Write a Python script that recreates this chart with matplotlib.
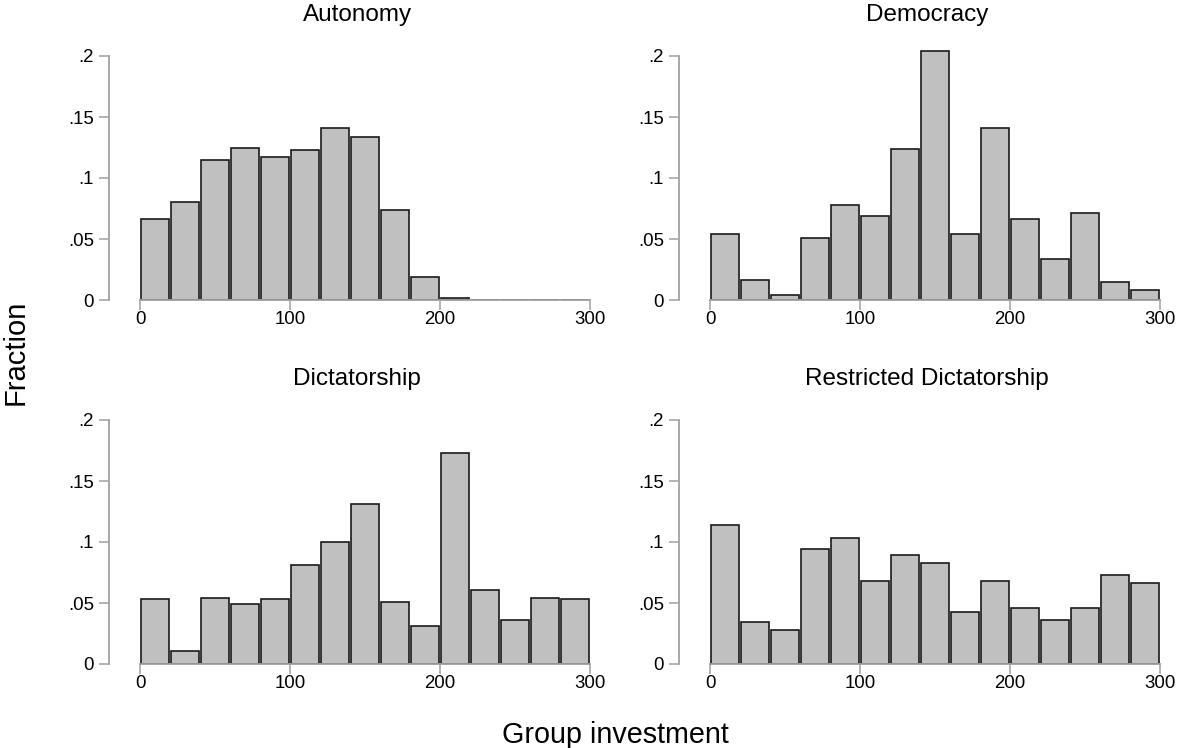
import matplotlib.pyplot as plt
import numpy as np

plt.rcParams["font.family"] = ["Liberation Sans", "DejaVu Sans"]

# bins of width 20 from 0 to 300
bin_edges = np.arange(0, 301, 20)
panel_titles = ["Autonomy", "Democracy", "Dictatorship", "Restricted Dictatorship"]

autonomy = [0.066, 0.080, 0.115, 0.125, 0.117, 0.123, 0.141, 0.134, 0.074, 0.019,
            0.0013, 0, 0, 0, 0]
democracy = [0.054, 0.016, 0.0045, 0.051, 0.078, 0.069, 0.124, 0.204, 0.054, 0.141,
             0.066, 0.034, 0.071, 0.0145, 0.0078]
dictatorship = [0.053, 0.011, 0.054, 0.0495, 0.053, 0.081, 0.100, 0.131, 0.051, 0.031,
                0.173, 0.061, 0.036, 0.054, 0.053]
restricted = [0.114, 0.0345, 0.028, 0.0945, 0.103, 0.068, 0.0895, 0.083, 0.043, 0.068,
              0.046, 0.036, 0.046, 0.073, 0.066]

panel_values = [autonomy, democracy, dictatorship, restricted]

fig = plt.figure(figsize=(11.78, 7.48), dpi=100)

W, H = 1178, 748
# (x of 0, y of zero line) in pixels
origins = [(140, 300), (710, 300), (140, 664), (710, 664)]
px_per_unit = 1220
ytop = 0.21

centers = (bin_edges[:-1] + bin_edges[1:]) / 2
for (x0, y0), title, vals in zip(origins, panel_titles, panel_values):
    h = ytop * px_per_unit
    ax = fig.add_axes([x0 / W, (H - y0) / H, 450 / W, h / H])
    ax.bar(centers, vals, width=19.3, color="#c0c0c0", edgecolor="#1a1a1a",
           linewidth=1.2)
    ax.set_xlim(0, 300)
    ax.set_ylim(0, ytop)
    ax.set_xticks([0, 100, 200, 300])
    ax.set_yticks([0, 0.05, 0.1, 0.15, 0.2])
    ax.set_yticklabels(["0", ".05", ".1", ".15", ".2"])
    for s in ["top", "right"]:
        ax.spines[s].set_visible(False)
    ax.spines["left"].set_position(("outward", 22.3))
    ax.spines["left"].set_bounds(0, 0.2)
    ax.spines["bottom"].set_bounds(0, 300)
    for s in ["left", "bottom"]:
        ax.spines[s].set_color("#a0a0a0")
        ax.spines[s].set_linewidth(1.3)
    ax.tick_params(axis="both", colors="#a0a0a0", labelcolor="black",
                   labelsize=13.4, length=7.2, width=1.1)
    ax.tick_params(axis="y", pad=3.6)
    ax.tick_params(axis="x", pad=0.8)
    ax.set_title(title, fontsize=17.5, pad=16.4, x=0.483)
    ax.patch.set_visible(False)

fig.text(16 / W, 1 - 352 / H, "Fraction", rotation=90, ha="center", va="center",
         fontsize=21)
fig.text(615 / W, 1 - 743 / H, "Group investment", ha="center", va="baseline",
         fontsize=20.7)

fig.savefig("out.png", dpi=100, facecolor="white")
